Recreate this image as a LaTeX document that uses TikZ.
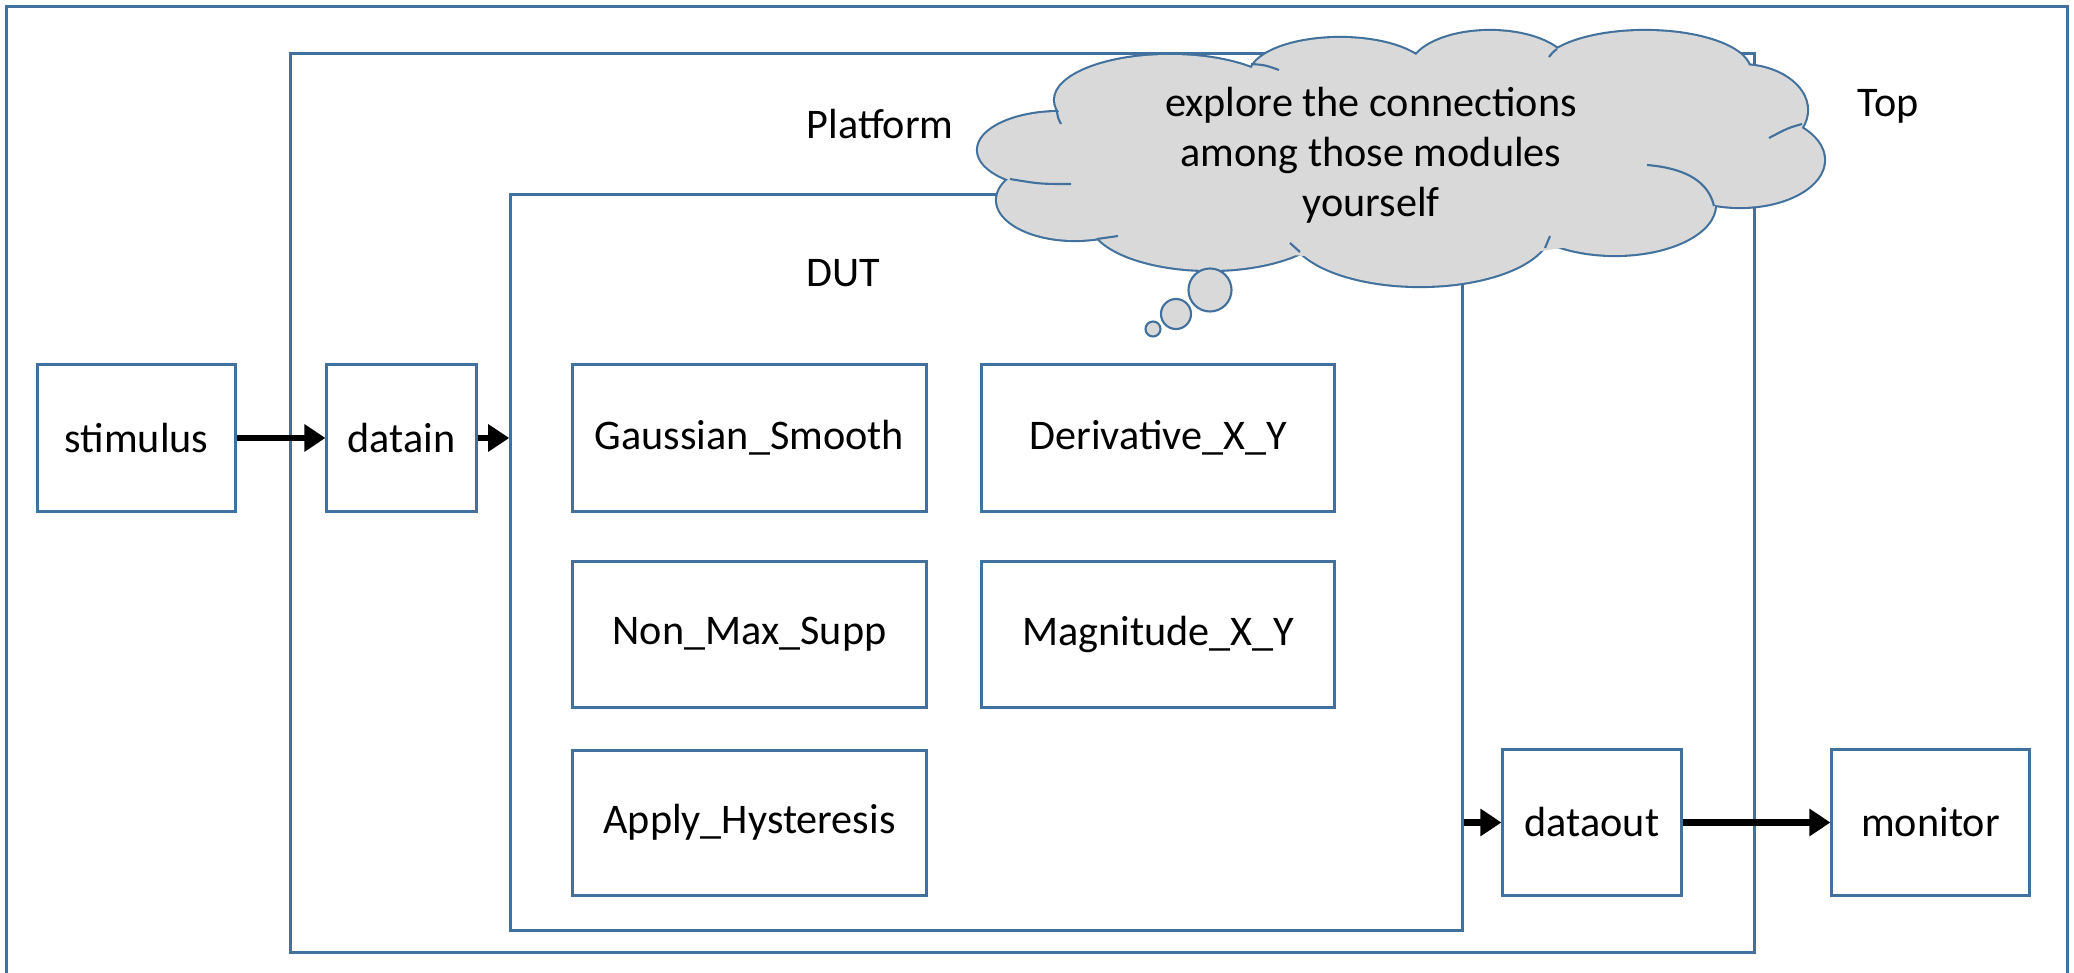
\documentclass[tikz,border=0pt]{standalone}
\usepackage{fontspec}
\setmainfont{Carlito}
\usetikzlibrary{arrows.meta, positioning}
\definecolor{frameblue}{RGB}{65,113,156}
\definecolor{cloudgray}{RGB}{217,217,217}

\begin{document}
\begin{tikzpicture} [%
    x = 0.01cm,
    y = -0.01cm,
    >= { Triangle[length=6pt, width=7.5pt] },
    on grid,
    every node/.style = {%
      font = \fontsize{12}{14.2}\selectfont,
      text = black },
    frame/.style = {%
      draw = frameblue,
      line width = 0.85pt,
      inner sep = 0pt },
    module/.style = {%
      frame,
      minimum width = 3.53cm,
      minimum height = 1.46cm },
    caption/.style = {%
      anchor = base west,
      inner sep = 0pt },
    flow/.style = {%
      ->,
      line width = 1.9pt },
    puff/.style = {%
      draw = frameblue,
      fill = cloudgray,
      line width = 0.6pt,
      inner sep = 0pt },
    stub/.style = {%
      draw = frameblue,
      line width = 0.6pt }
  ]

  \useasboundingbox (0,0) rectangle (2074,973);
  \clip (0,0) rectangle (2074,973);

  % nested frames, Top runs past the bottom edge
  \node[frame, minimum width=20.60cm, minimum height=11cm] (top) at (1037,557) {};
  \node[frame, minimum width=14.63cm, minimum height=8.98cm] (platform) at (1022.5,503) {};
  \node[frame, minimum width=9.51cm, minimum height=7.35cm] (dut) at (986.5,562.5) {};

  \node[caption] (toplabel) at (1857,117) {Top};
  \node[caption] (platformlabel) at (806,139) {Platform};
  \node[caption] (dutlabel) at (806,287) {DUT};

  % modules
  \node[module, minimum width=1.97cm] (stimulus) at (136.5,438) {stimulus};
  \node[module, minimum width=1.49cm] (datain) at (401.5,438) {datain};
  \node[module] (gauss) at (749.5,438) {Gaussian\_Smooth};
  \node[module] (deriv) [right=4.085cm of gauss] {Derivative\_X\_Y};
  \node[module] (nonmax) [below=1.965cm of gauss] {Non\_Max\_Supp};
  \node[module] (magn) [right=4.085cm of nonmax] {Magnitude\_X\_Y};
  \node[module, minimum height=1.45cm] (hyst) [below=1.88cm of nonmax] {Apply\_Hysteresis};
  \node[module, minimum width=1.78cm, minimum height=1.45cm] (dataout) at (1592,822.5) {dataout};
  \node[module, minimum width=1.97cm, minimum height=1.45cm] (monitor) at (1930.5,822.5) {monitor};

  \draw[flow] (stimulus) -- (datain);
  \draw[flow] (datain) -- (datain -| dut.west);
  \draw[flow] (dataout -| dut.east) -- (dataout);
  \draw[flow] (dataout) -- (monitor);

  % thought cloud: puffs outlined, then filled again to hide the inner arcs
  \foreach \cx/\cy/\rx/\ry in {1060/150/82/38, 1170/100/115/45, 1340/75/90/37,
      1490/70/80/39, 1645/71/105/40, 1740/110/67/45, 1740/160/84/47,
      1615/205/100/50, 1420/230/130/56, 1210/220/120/50, 1075/200/78/40}
    \draw[puff, line width=1.2pt] (\cx,\cy) ellipse [x radius=\rx, y radius=\ry];
  \foreach \cx/\cy/\rx/\ry in {1060/150/82/38, 1170/100/115/45, 1340/75/90/37,
      1490/70/80/39, 1645/71/105/40, 1740/110/67/45, 1740/160/84/47,
      1615/205/100/50, 1420/230/130/56, 1210/220/120/50, 1075/200/78/40,
      1400/160/340/100}
    \fill[cloudgray] (\cx,\cy) ellipse [x radius=\rx, y radius=\ry];

  % arc ends that run on inside the cloud
  \draw[stub] (1057,112) .. controls (1058,118) .. (1061,124);
  \draw[stub] (1251,64) .. controls (1265,65) .. (1279,70);
  \draw[stub] (1557,49) .. controls (1553,52) .. (1549,57);
  \draw[stub] (1802,124) .. controls (1788,128) .. (1769,138);
  \draw[stub] (1714,206) .. controls (1708,180) and (1683,168) .. (1647,165);
  \draw[stub] (1545,248) .. controls (1548,242) .. (1550,236);
  \draw[stub] (1300,252) .. controls (1295,247) .. (1290,243);
  \draw[stub] (1097,239) .. controls (1107,238) .. (1118,236);
  \draw[stub] (1010,179) .. controls (1040,184) .. (1071,184);

  \node[align=center] (thoughttext) at (1371,155)
    {explore the connections\\among those modules\\yourself};
  \node[puff, circle, minimum size=0.43cm] (bubbleA) at (1210,290) {};
  \node[puff, circle, minimum size=0.30cm] (bubbleB) at (1176,314) {};
  \node[puff, circle, minimum size=0.15cm] (bubbleC) at (1153,329) {};

\end{tikzpicture}
\end{document}
